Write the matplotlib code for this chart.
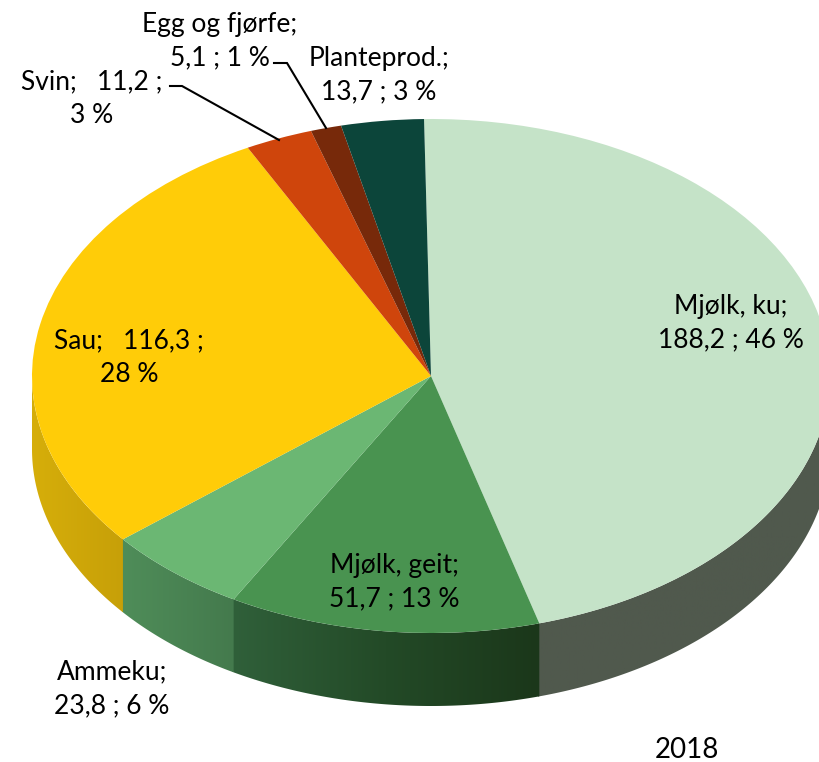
# 3D-look pie for 2018, squashed pie on full-figure axes with side walls below
import matplotlib
matplotlib.use('Agg')
import matplotlib.pyplot as plt
from matplotlib.colors import LinearSegmentedColormap
from matplotlib.patches import Polygon
import numpy as np

plt.rcParams['font.family'] = ['Lato', 'DejaVu Sans']

categories = ['Mjølk, ku', 'Mjølk, geit', 'Ammeku', 'Sau', 'Svin', 'Egg og fjørfe', 'Planteprod.']
values = [188.2, 51.7, 23.8, 116.3, 11.2, 5.1, 13.7]
percents = [46, 13, 6, 28, 3, 1, 3]
year = '2018'

top_colors = ['#C5E3C8', '#499350', '#6BB773', '#FFCC08', '#CF450C', '#77290A', '#0C453A']
wall_colors = [['#50594D', '#50594D'],
               ['#30603A', '#234A27', '#1B371A'],
               ['#4F8D59', '#447A4D'],
               ['#D6AE0A', '#C7A008'],
               None, None, None]

# pixel geometry of the ellipse
W, H = 820, 762
cx, cy, rx, ry = 431, 376, 399, 257
depth = 73 / ry
rot = np.radians(1.0)  # first slice starts a little left of twelve o'clock

fig = plt.figure(figsize=(W / 100, H / 100), dpi=100)
ax = fig.add_axes([0, 0, 1, 1])
ax.pie(values, colors=top_colors, startangle=90 + np.degrees(rot), counterclock=False, radius=1,
       wedgeprops={'linewidth': 0, 'zorder': 3})
ax.set_aspect('auto')
xlim = (-cx / rx, (W - cx) / rx)
ylim = (-(H - cy) / ry, cy / ry)

# side walls, only the front half of the rim shows
edges = np.concatenate([[0], np.cumsum(values)]) / np.sum(values) * 2 * np.pi - rot
for i, stops in enumerate(wall_colors):
    # small overlap so no light seam shows between walls
    a0 = max(edges[i], np.pi / 2)
    a1 = min(edges[i + 1] + 0.004, 3 * np.pi / 2)
    if stops is None or a1 <= a0:
        continue
    t = np.linspace(a0, a1, 120)
    x, y = np.sin(t), np.cos(t)
    pts = np.vstack([np.column_stack([x, y]),
                     np.column_stack([x[::-1], y[::-1] - depth])])
    clip = Polygon(pts, closed=True, transform=ax.transData, facecolor='none', edgecolor='none')
    ax.add_patch(clip)
    cmap = LinearSegmentedColormap.from_list('wall%d' % i, stops)
    # colours run left to right across the figure, not along the rim
    grad = np.linspace(0, 1, 256).reshape(1, -1)
    im = ax.imshow(grad, cmap=cmap, aspect='auto', zorder=2 + i * 0.01,
                   extent=(x.min(), x.max(), y.min() - depth, y.max()))
    im.set_clip_path(clip)

ax.set_xlim(xlim)
ax.set_ylim(ylim)
ax.axis('off')

# overlay in image pixels for texts and leader lines
ov = fig.add_axes([0, 0, 1, 1])
ov.set_xlim(0, W)
ov.set_ylim(H, 0)
ov.axis('off')
ov.patch.set_alpha(0)

label_xy = [(731, 323), (394, 582), (112, 689), (129, 358), (92, 99), (220, 41), (379, 75)]
seps = ['\n', '\n', '\n', '   ', '   ', '\n', '\n']
breaks = ['', '', '', '\n', '\n', '', '']
for name, v, p, pos, sep, br in zip(categories, values, percents, label_xy, seps, breaks):
    s = '%s;%s%s ;%s%d %%' % (name, sep, str(v).replace('.', ','), br if br else ' ', p)
    ov.text(pos[0], pos[1], s, ha='center', va='center', fontsize=19, color='black', linespacing=1.44)

ov.plot([170, 182, 279], [86, 86, 140], color='black', lw=1.5, solid_joinstyle='miter')
ov.plot([274, 287, 326], [63, 63, 128], color='black', lw=1.5, solid_joinstyle='miter')

ov.text(687, 750, year, ha='center', va='center', fontsize=20, color='black')

fig.savefig('out.png', dpi=100)
